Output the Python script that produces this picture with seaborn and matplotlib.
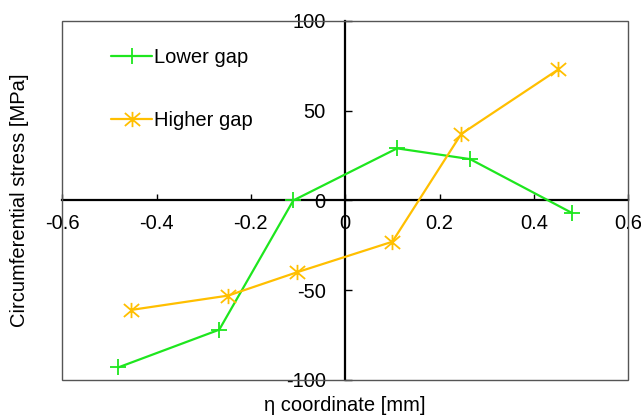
import pandas as pd
import matplotlib.pyplot as plt
import seaborn as sns
from matplotlib.path import Path

# data
lower_x = [-0.481, -0.267, -0.110, 0.110, 0.265, 0.481]
lower_y = [-93, -72, 0, 29, 23, -7]
higher_x = [-0.454, -0.248, -0.102, 0.100, 0.246, 0.452]
higher_y = [-61, -53, -40, -23, 37, 73]

lower = pd.DataFrame({'x': lower_x, 'y': lower_y})
higher = pd.DataFrame({'x': higher_x, 'y': higher_y})

sns.set_style('white')
plt.rcParams['font.family'] = ['Liberation Sans', 'DejaVu Sans']
plt.rcParams['axes.unicode_minus'] = False
plt.rcParams['text.color'] = 'black'
plt.rcParams['axes.labelcolor'] = 'black'
plt.rcParams['xtick.color'] = 'black'
plt.rcParams['ytick.color'] = 'black'

fig = plt.figure(figsize=(6.41, 4.18), dpi=100)
ax = fig.add_axes([0.097, 0.091, 0.883, 0.859])

# star marker: an X with a vertical bar
star = Path([(-1, -0.85), (1, 0.85), (-1, 0.85), (1, -0.85), (0, -1), (0, 1)],
            [Path.MOVETO, Path.LINETO, Path.MOVETO, Path.LINETO, Path.MOVETO, Path.LINETO])

green = '#1ee61e'
orange = '#ffbf00'
sns.lineplot(data=lower, x='x', y='y', color=green, marker='+', sort=False,
             markersize=11, mec=green, markeredgewidth=1.3, linewidth=1.6,
             label='Lower gap', ax=ax)
sns.lineplot(data=higher, x='x', y='y', color=orange, marker=star, sort=False,
             markersize=11, mec=orange, markeredgewidth=1.3, linewidth=1.6,
             label='Higher gap', ax=ax)

ax.set_xlim(-0.6, 0.6)
ax.set_ylim(-100, 100)
ax.set_xticks([-0.6, -0.4, -0.2, 0, 0.2, 0.4, 0.6])
ax.set_xticklabels(['-0.6', '-0.4', '-0.2', '0', '0.2', '0.4', '0.6'])
ax.set_yticks([-100, -50, 0, 50, 100])

# axes crossing at the origin, grey frame around
ax.spines['left'].set_position(('data', 0))
ax.spines['bottom'].set_position(('data', 0))
for s in ['left', 'bottom']:
    ax.spines[s].set_color('black')
    ax.spines[s].set_linewidth(1.6)
    ax.spines[s].set_zorder(1)
for s in ['top', 'right']:
    ax.spines[s].set_visible(False)
ax.add_patch(plt.Rectangle((0, 0), 1, 1, transform=ax.transAxes, fill=False,
                           edgecolor='#555555', linewidth=1.0, zorder=1.5,
                           clip_on=False))

ax.tick_params(axis='x', direction='in', length=4, width=1.0, pad=10,
               labelsize=14.5, bottom=True)
ax.tick_params(axis='y', direction='in', length=5, width=1.0, pad=14,
               labelsize=14.5, left=True)

ax.set_xlabel('η coordinate [mm]', fontsize=14.5)
ax.set_ylabel('Circumferential stress [MPa]', fontsize=14.5)
ax.xaxis.set_label_coords(0.5, -0.045)
ax.yaxis.set_label_coords(-0.058, 0.5)

ax.legend(loc='upper left', bbox_to_anchor=(0.055, 0.975), frameon=False,
          fontsize=14.5, labelspacing=2.2, handlelength=2.0,
          handletextpad=0.1)

fig.savefig('out.png', dpi=100)
